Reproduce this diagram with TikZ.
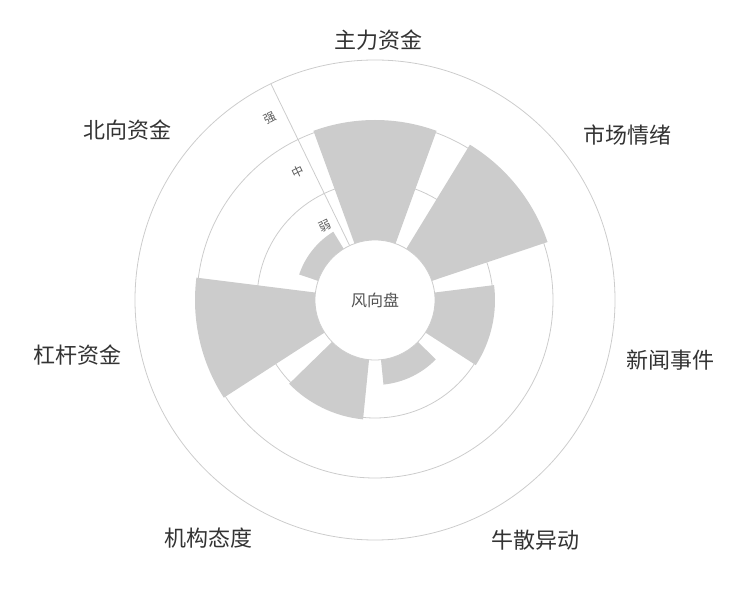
\documentclass[tikz,border=0pt]{standalone}
\usepackage{fontspec}
\newfontfamily\cjk{Noto Sans CJK SC}
\usetikzlibrary{positioning}
\definecolor{ringgray}{RGB}{204,204,204}
\definecolor{bargray}{RGB}{204,204,204}
\definecolor{textgray}{RGB}{51,51,51}
\tikzset{
    ring/.style     = {draw=ringgray, line width=0.8pt},
    barsector/.style= {fill=bargray},
    catlabel/.style = {font=\cjk\fontsize{22}{26}\selectfont, text=textgray},
    levellabel/.style = {font=\cjk\fontsize{12}{14}\selectfont, text=textgray!80},
}
\begin{document}
\begin{tikzpicture}[x=1pt,y=1pt]
    \useasboundingbox (0,0) rectangle (750,600);
    \begin{scope}[shift={(375,300)}]
        % rings
        \draw[ring] (0,0) circle[radius=240];
        \draw[ring] (0,0) circle[radius=178];
        \draw[ring] (0,0) circle[radius=118];
        % bars
        \foreach \ang/\val in {90/180, 38.57/182, -12.86/120, -64.29/85,
                               -115.71/120, -167.14/180, 141.43/80}{
            \fill[barsector] (\ang-20:60) -- (\ang-20:\val)
                arc[start angle=\ang-20, end angle=\ang+20, radius=\val]
                -- (\ang+20:60)
                arc[start angle=\ang+20, end angle=\ang-20, radius=60] -- cycle;
        }
        % hole and axis
        \node[circle, fill=white, draw=ringgray, line width=0.8pt,
              minimum size=120pt, inner sep=0pt,
              font=\cjk\fontsize{16}{18}\selectfont, text=textgray!85] (hub) {风向盘};
        \coordinate (axisend) at (115.71:240);
        \draw[ring] (hub.115.71) -- (axisend);
        \node[levellabel, rotate=25.71] (weak) at (124:89) {弱};
        \node[levellabel, rotate=25.71] (mid) at (121:149) {中};
        \node[levellabel, rotate=25.71] (strong) at (120:210) {强};
    \end{scope}
    % categories
    \node[catlabel] (main)  at (378,560) {主力资金};
    \node[catlabel] (mood)  at (627,465) {市场情绪};
    \node[catlabel] (news)  at (670,240) {新闻事件};
    \node[catlabel] (bull)  at (535,60)  {牛散异动};
    \node[catlabel] (inst)  at (208,62)  {机构态度};
    \node[catlabel] (lever) at (77,245)  {杠杆资金};
    \node[catlabel] (north) at (127,470) {北向资金};
\end{tikzpicture}
\end{document}
